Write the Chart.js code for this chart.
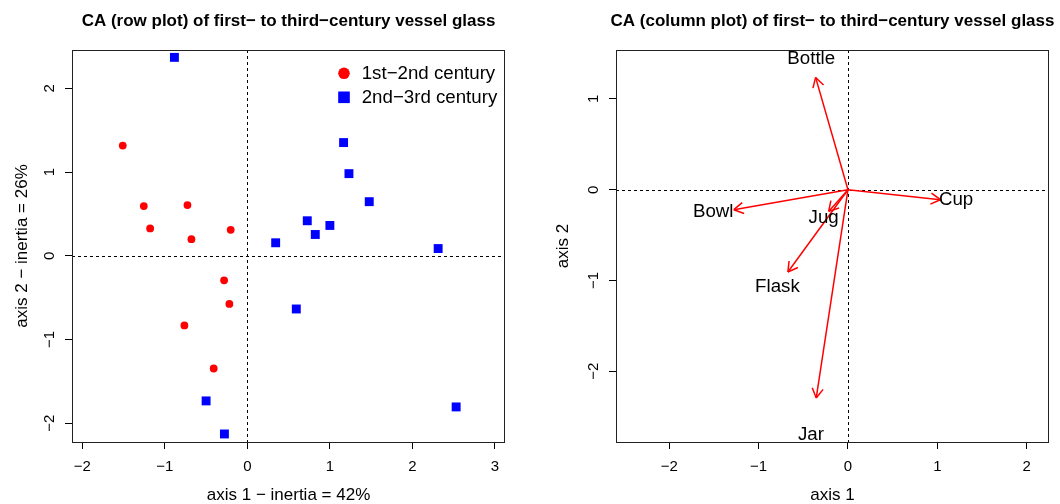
<!DOCTYPE html>
<html>
<head>
<meta charset="utf-8">
<script src="https://cdn.jsdelivr.net/npm/chart.js@4.4.1/dist/chart.umd.min.js"></script>
<style>
  body { margin: 0; background: #fff; }
  .wrap { display: flex; width: 1060px; height: 504px; }
  canvas { display: block; }
</style>
</head>
<body>
<div class="wrap">
  <canvas id="rowPlot" width="530" height="504"></canvas>
  <canvas id="colPlot" width="530" height="504"></canvas>
</div>
<script>
// row scores (axis 1 / axis 2), one pair of arrays per period
const earlyX = [-1.51, -1.255, -0.726, -1.178, -0.678, -0.202, -0.282, -0.218, -0.763, -0.408];
const earlyY = [1.317, 0.594, 0.606, 0.327, 0.199, 0.311, -0.292, -0.575, -0.831, -1.346];
const lateX = [-0.884, 1.166, 1.231, 1.477, 0.726, 1.0, 0.823, 0.343, 2.312, 0.593, -0.5, -0.278, 2.53];
const lateY = [2.371, 1.353, 0.982, 0.647, 0.419, 0.363, 0.255, 0.156, 0.087, -0.635, -1.733, -2.128, -1.805];
const periods = ['1st\u22122nd century', '2nd\u22123rd century'];

// column scores (vessel types) and where their names sit
const vessels = ['Bottle', 'Cup', 'Bowl', 'Jug', 'Flask', 'Jar'];
const vesselX = [-0.362, 1.034, -1.277, -0.216, -0.672, -0.355];
const vesselY = [1.237, -0.110, -0.220, -0.239, -0.906, -2.294];
const nameX = [-0.411, 1.209, -1.508, -0.272, -0.789, -0.414];
const nameY = [1.446, -0.110, -0.245, -0.306, -1.068, -2.700];

const rowTicksX = [-2, -1, 0, 1, 2, 3];
const rowTicksY = [-2, -1, 0, 1, 2];
const colTicksX = [-2, -1, 0, 1, 2];
const colTicksY = [-2, -1, 0, 1];

const FAMILY = "'Liberation Sans', Arial, Helvetica, sans-serif";
Chart.defaults.font.family = FAMILY;
Chart.defaults.color = '#000';

const fmt = v => (v < 0 ? '\u2212' + (-v) : String(v));

function axis(min, max, ticks, title, o) {
    return {
        type: 'linear',
        min: min,
        max: max,
        afterBuildTicks: s => { s.ticks = ticks.map(v => ({ value: v })); },
        afterFit: s => {
            if (s.isHorizontal()) s.height = o.size;
            else s.width = o.size;
        },
        grid: { display: true, drawOnChartArea: false, drawTicks: true, tickLength: 7, color: '#000', lineWidth: 1 },
        border: { display: false },
        ticks: {
            autoSkip: false,
            color: '#000',
            font: { size: 15 },
            padding: o.pad,
            minRotation: o.rot || 0,
            maxRotation: o.rot || 0,
            crossAlign: o.rot ? 'center' : 'near',
            callback: fmt
        },
        title: {
            display: true,
            text: title,
            color: '#000',
            font: { size: 17, lineHeight: 1 },
            padding: { top: o.titlePad, bottom: 0 }
        }
    };
}

// zero lines, plot box and heading
const frame = {
    id: 'frame',
    beforeDatasetsDraw(chart) {
        const { ctx, chartArea: a, scales: { x, y } } = chart;
        const x0 = Math.round(x.getPixelForValue(0)) + 0.5;
        const y0 = Math.round(y.getPixelForValue(0)) + 0.5;
        ctx.save();
        ctx.strokeStyle = '#000';
        ctx.lineWidth = 1;
        ctx.setLineDash([3, 3]);
        ctx.beginPath();
        ctx.moveTo(x0, a.top);
        ctx.lineTo(x0, a.bottom);
        ctx.moveTo(a.left, y0);
        ctx.lineTo(a.right, y0);
        ctx.stroke();
        ctx.restore();
    },
    afterDraw(chart, args, opts) {
        const { ctx, chartArea: a } = chart;
        ctx.save();
        ctx.strokeStyle = '#222';
        ctx.lineWidth = 1;
        ctx.strokeRect(Math.round(a.left) + 0.5, Math.round(a.top) + 0.5,
            Math.round(a.right - a.left) - 1, Math.round(a.bottom - a.top));
        ctx.fillStyle = '#000';
        ctx.font = 'bold 17px ' + FAMILY;
        ctx.textAlign = 'center';
        ctx.textBaseline = 'alphabetic';
        ctx.fillText(opts.text, (a.left + a.right) / 2, 26);
        ctx.restore();
    }
};

const periodLegend = {
    id: 'periodLegend',
    afterDraw(chart) {
        const { ctx, chartArea: a } = chart;
        const mx = a.right - 161;
        ctx.save();
        ctx.font = '18.7px ' + FAMILY;
        ctx.textBaseline = 'middle';
        ctx.textAlign = 'left';
        chart.data.datasets.forEach((ds, i) => {
            const my = a.top + 23.3 + i * 24;
            ctx.fillStyle = ds.backgroundColor;
            if (ds.pointStyle === 'rect') {
                ctx.fillRect(mx - 5.8, my - 5.8, 11.6, 11.6);
            } else {
                ctx.beginPath();
                ctx.arc(mx, my, 5.8, 0, Math.PI * 2);
                ctx.fill();
            }
            ctx.fillStyle = '#000';
            ctx.fillText(ds.label, mx + 17.7, my + 1);
        });
        ctx.restore();
    }
};

const arrowHeads = {
    id: 'arrowHeads',
    afterDatasetsDraw(chart) {
        const { ctx, chartArea: a, scales: { x, y } } = chart;
        ctx.save();
        chart.data.datasets.forEach((ds, i) => {
            const pts = chart.getDatasetMeta(i).data;
            const p0 = pts[0], p1 = pts[1];
            const ang = Math.atan2(p0.y - p1.y, p0.x - p1.x);
            ctx.strokeStyle = ds.borderColor;
            ctx.lineWidth = ds.borderWidth;
            ctx.beginPath();
            [-Math.PI / 6, Math.PI / 6].forEach(d => {
                ctx.moveTo(p1.x, p1.y);
                ctx.lineTo(p1.x + 11 * Math.cos(ang + d), p1.y + 11 * Math.sin(ang + d));
            });
            ctx.stroke();
        });
        // vessel names, clipped to the plot region like the original
        ctx.beginPath();
        ctx.rect(a.left, a.top, a.right - a.left, a.bottom - a.top);
        ctx.clip();
        ctx.fillStyle = '#000';
        ctx.font = '18.7px ' + FAMILY;
        ctx.textAlign = 'center';
        ctx.textBaseline = 'middle';
        vessels.forEach((name, i) => {
            ctx.fillText(name, x.getPixelForValue(nameX[i]), y.getPixelForValue(nameY[i]));
        });
        ctx.restore();
    }
};

new Chart(document.getElementById('rowPlot'), {
    type: 'scatter',
    data: {
        datasets: [
            {
                label: periods[0],
                data: earlyX.map((v, i) => ({ x: v, y: earlyY[i] })),
                pointStyle: 'circle',
                pointRadius: 3.9,
                backgroundColor: 'rgb(255,0,0)',
                borderWidth: 0
            },
            {
                label: periods[1],
                data: lateX.map((v, i) => ({ x: v, y: lateY[i] })),
                pointStyle: 'rect',
                pointRadius: 6.3,
                backgroundColor: 'rgb(0,0,255)',
                borderWidth: 0
            }
        ]
    },
    options: {
        responsive: false,
        animation: false,
        devicePixelRatio: 1,
        events: [],
        layout: { padding: { left: 0, right: 25, top: 50, bottom: 0 } },
        scales: {
            x: axis(-2.125, 3.122, rowTicksX, 'axis 1 \u2212 inertia = 42%', { size: 62, pad: 8.5 }),
            y: axis(-2.224, 2.459, rowTicksY, 'axis 2 \u2212 inertia = 26%', { size: 72, pad: 7, rot: 90, titlePad: 14 })
        },
        plugins: {
            legend: { display: false },
            tooltip: { enabled: false },
            frame: { text: 'CA (row plot) of first\u2212 to third\u2212century vessel glass' }
        }
    },
    plugins: [frame, periodLegend]
});

new Chart(document.getElementById('colPlot'), {
    type: 'scatter',
    data: {
        datasets: vessels.map((name, i) => ({
            label: name,
            data: [{ x: 0, y: 0 }, { x: vesselX[i], y: vesselY[i] }],
            showLine: true,
            borderColor: 'rgb(255,0,0)',
            borderWidth: 1.5,
            pointRadius: 0
        }))
    },
    options: {
        responsive: false,
        animation: false,
        devicePixelRatio: 1,
        events: [],
        layout: { padding: { left: 0, right: 11, top: 50, bottom: 0 } },
        scales: {
            x: axis(-2.595, 2.249, colTicksX, 'axis 1', { size: 62, pad: 8.5 }),
            y: axis(-2.779, 1.539, colTicksY, 'axis 2', { size: 86, pad: 7, rot: 90, titlePad: 25 })
        },
        plugins: {
            legend: { display: false },
            tooltip: { enabled: false },
            frame: { text: 'CA (column plot) of first\u2212 to third\u2212century vessel glass' }
        }
    },
    plugins: [frame, arrowHeads]
});
</script>
</body>
</html>
